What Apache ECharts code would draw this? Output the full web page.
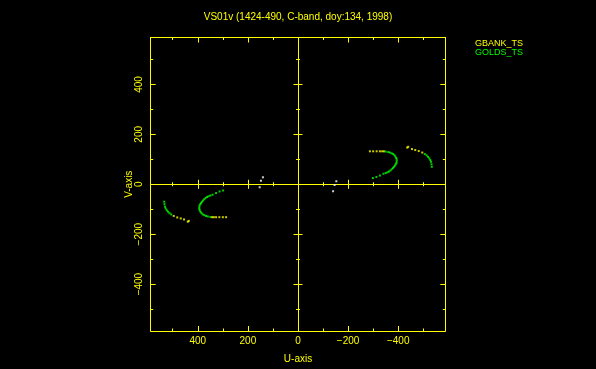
<!DOCTYPE html>
<html>
<head>
<meta charset="utf-8">
<script src="https://cdn.jsdelivr.net/npm/echarts@6/dist/echarts.min.js"></script>
<style>html,body{margin:0;padding:0;background:#000;}#c{width:596px;height:369px;}</style>
</head>
<body>
<div id="c"></div>
<script>
// ---- data (U, V in the axis units) ----
const titleText = 'VS01v (1424-490, C-band, doy:134, 1998)';
const seriesNames = ['GBANK_TS', 'GOLDS_TS'];
const axisRange = 588;
const majorTicks = [-400, -200, 0, 200, 400];
const minorTicks = [-500, -300, -100, 100, 300, 500];
const tickLabels = [-400, -200, 0, 200, 400];

const gbankPoints = [
  [-287,132],[-300,132],[-314,132],[-327,132],[-336,132],[-343,132],
  [-436,147],[-440,150],[-455,141],[-468,137],[-482,133],[-496,127],
  [287,-132],[300,-132],[314,-132],[327,-132],[336,-132],[343,-132],
  [436,-147],[440,-150],[455,-141],[468,-137],[482,-133],[496,-127]
];
const goldsPoints = [
  [-350,131],[-360,129],[-367,127],[-374,124],[-380,121],[-385,116],[-389,111],[-392,105],
  [-394,99],[-394,92],[-393,85],[-390,80],[-387,75],[-383,70],[-379,65],[-374,60],[-369,55],
  [-363,51],[-357,48],[-350,45],[-341,42],[-327,35],[-313,29],[-299,25],
  [-506,121],[-513,116],[-519,110],[-524,104],[-528,97],[-531,90],[-533,80],[-534,70],
  [350,-131],[360,-129],[367,-127],[374,-124],[380,-121],[385,-116],[389,-111],[392,-105],
  [394,-99],[394,-92],[393,-85],[390,-80],[387,-75],[383,-70],[379,-65],[374,-60],[369,-55],
  [363,-51],[357,-48],[350,-45],[341,-42],[327,-35],[313,-29],[299,-25],
  [506,-121],[513,-116],[519,-110],[524,-104],[528,-97],[531,-90],[533,-80],[534,-70]
];
const otherPoints = [
  [140,28],[148,14],[153,-12],
  [-140,-28],[-146,-3],[-153,12]
];

// ---- styling ----
const YEL = '#ffff00';
const GRN = '#00ff00';
const FONT = 'Liberation Sans';

function fmt(v){ return v < 0 ? '\u2212' + Math.abs(v) : String(v); }

function makeAxis(dim, opts){
  const a = {
    type: 'value', min: -axisRange, max: axisRange, gridIndex: 0,
    splitLine: {show: false},
    axisLine: {show: opts.line, onZero: !!opts.zero, lineStyle: {color: YEL, width: 1}},
    axisTick: {show: true, inside: opts.inside, length: opts.len, customValues: opts.ticks,
               lineStyle: {color: YEL, width: 1}},
    axisLabel: {show: false},
    position: opts.pos
  };
  if (dim === 'x') a.inverse = true;
  if (opts.zero) a.axisLine.onZeroAxisIndex = 0;
  if (opts.labels) {
    a.axisLabel = {show: true, customValues: tickLabels, color: YEL, fontFamily: FONT, fontSize: 10,
                   margin: opts.margin, rotate: opts.rotate || 0, formatter: fmt};
    a.name = opts.name;
    a.nameLocation = 'middle';
    a.nameGap = opts.nameGap;
    a.nameTextStyle = {color: YEL, fontFamily: FONT, fontSize: 10};
  }
  return a;
}

const xAxes = [
  makeAxis('x', {pos:'bottom', line:true, inside:true, len:5, ticks:majorTicks, labels:true, margin:5, name:'U-axis', nameGap:23}),
  makeAxis('x', {pos:'bottom', line:false, inside:true, len:2.5, ticks:minorTicks}),
  makeAxis('x', {pos:'top', line:true, inside:true, len:5, ticks:majorTicks}),
  makeAxis('x', {pos:'top', line:false, inside:true, len:2.5, ticks:minorTicks}),
  makeAxis('x', {pos:'bottom', line:true, inside:true, len:4.5, ticks:majorTicks, zero:true}),
  makeAxis('x', {pos:'bottom', line:false, inside:false, len:4.5, ticks:majorTicks, zero:true}),
  makeAxis('x', {pos:'bottom', line:false, inside:true, len:2, ticks:minorTicks, zero:true}),
  makeAxis('x', {pos:'bottom', line:false, inside:false, len:2, ticks:minorTicks, zero:true})
];
const yAxes = [
  makeAxis('y', {pos:'left', line:true, inside:true, len:5, ticks:majorTicks, labels:true, margin:6, rotate:90, name:'V-axis', nameGap:16}),
  makeAxis('y', {pos:'left', line:false, inside:true, len:2.5, ticks:minorTicks}),
  makeAxis('y', {pos:'right', line:true, inside:true, len:5, ticks:majorTicks}),
  makeAxis('y', {pos:'right', line:false, inside:true, len:2.5, ticks:minorTicks}),
  makeAxis('y', {pos:'left', line:true, inside:true, len:4.5, ticks:majorTicks, zero:true}),
  makeAxis('y', {pos:'left', line:false, inside:false, len:4.5, ticks:majorTicks, zero:true}),
  makeAxis('y', {pos:'left', line:false, inside:true, len:2, ticks:minorTicks, zero:true}),
  makeAxis('y', {pos:'left', line:false, inside:false, len:2, ticks:minorTicks, zero:true})
];

const chart = echarts.init(document.getElementById('c'), null, {renderer: 'canvas'});
chart.setOption({
  backgroundColor: '#000',
  animation: false,
  title: {
    text: titleText, left: 'center', top: 12, padding: 0,
    textStyle: {color: YEL, fontFamily: FONT, fontSize: 10, fontWeight: 'normal'}
  },
  legend: {
    orient: 'vertical', left: 470, top: 38.5, padding: 0, itemGap: 0,
    icon: 'none', itemWidth: 0, itemHeight: 10,
    textStyle: {fontFamily: FONT, fontSize: 9},
    data: [
      {name: seriesNames[0], textStyle: {color: YEL}},
      {name: seriesNames[1], textStyle: {color: GRN}}
    ]
  },
  grid: {left: 150.7, right: 150.7, top: 37.5, bottom: 38, containLabel: false, outerBoundsMode: 'none'},
  xAxis: xAxes,
  yAxis: yAxes,
  series: [
    {name: seriesNames[0], type: 'scatter', data: gbankPoints, symbol: 'rect', symbolSize: [2,2],
     itemStyle: {color: YEL}, xAxisIndex: 0, yAxisIndex: 0, z: 5},
    {name: seriesNames[1], type: 'scatter', data: goldsPoints, symbol: 'rect', symbolSize: [2,2],
     itemStyle: {color: GRN}, xAxisIndex: 0, yAxisIndex: 0, z: 6},
    {name: 'other', type: 'scatter', data: otherPoints, symbol: 'rect', symbolSize: [2,2],
     itemStyle: {color: '#ffffff'}, xAxisIndex: 0, yAxisIndex: 0, z: 4}
  ]
});
</script>
</body>
</html>
